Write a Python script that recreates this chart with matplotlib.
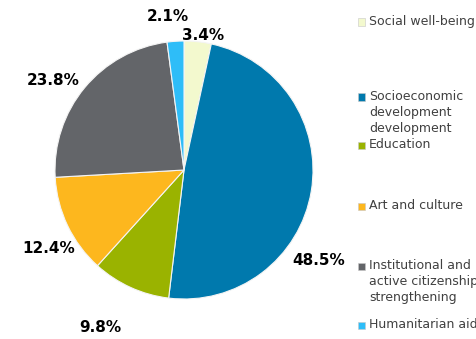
import numpy as np
import matplotlib.pyplot as plt
from matplotlib.patches import Rectangle

# Data
categories = ['Social well-being', 'Socioeconomic\ndevelopment\ndevelopment', 'Education',
              'Art and culture', 'Institutional and\nactive citizenship\nstrengthening',
              'Humanitarian aid']
values = [3.4, 48.5, 9.8, 12.4, 23.8, 2.1]
labels = ['3.4%', '48.5%', '9.8%', '12.4%', '23.8%', '2.1%']
colors = ['#F3F9CE', '#0079AD', '#9AB300', '#FDB71E', '#636569', '#2EBDF8']

# label placement (angle in degrees, radius relative to pie)
label_ang = [82, -34, -118, 210, 145.7, 96]
label_rad = [1.05, 1.26, 1.38, 1.21, 1.23, 1.2]
# legend first-line y positions (pixels from top)
legend_y = [22, 97, 145, 206, 266, 325]

W, H = 477, 339
fig = plt.figure(figsize=(W / 100, H / 100), dpi=100)
cx, cy, r = 184, 170, 129
ax = fig.add_axes([(cx - r) / W, (H - cy - r) / H, 2 * r / W, 2 * r / H])
ax.pie(values, colors=colors, startangle=90, counterclock=False,
       wedgeprops=dict(edgecolor='#F4F4F4', linewidth=0.8))
ax.set_xlim(-1, 1)
ax.set_ylim(-1, 1)
ax.set_aspect('equal')
ax.axis('off')

for lab, a, rr in zip(labels, label_ang, label_rad):
    t = np.deg2rad(a)
    ax.text(rr * np.cos(t), rr * np.sin(t), lab, ha='center', va='center',
            fontsize=11, fontweight='bold', color='black')

# legend
for name, col, y in zip(categories, colors, legend_y):
    fig.patches.append(Rectangle((358 / W, 1 - (y + 4) / H), 7.5 / W, 7.5 / H,
                                 transform=fig.transFigure, facecolor=col,
                                 edgecolor='#C8C8C8', linewidth=0.4))
    fig.text(369 / W, 1 - (y - 7) / H, name, ha='left', va='top',
             fontsize=9, color='#404040', linespacing=1.3)

fig.savefig('out.png', dpi=100)
